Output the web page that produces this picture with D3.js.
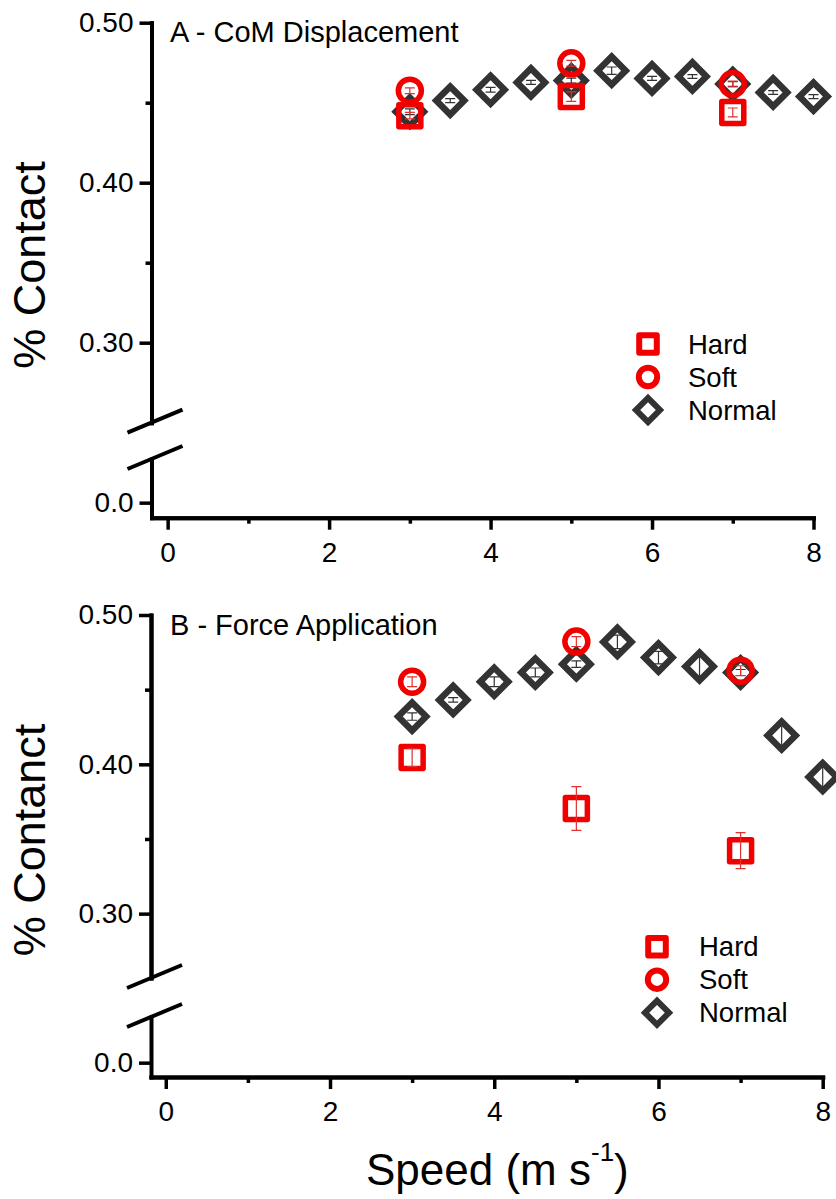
<!DOCTYPE html>
<html>
<head>
<meta charset="utf-8">
<script src="https://cdn.jsdelivr.net/npm/d3@7"></script>
<style>
  body { margin: 0; background: #fff; }
  svg { display: block; }
  text { font-family: "Liberation Sans", Arial, Helvetica, sans-serif; fill: #000; }
</style>
</head>
<body>
<svg id="chart" width="836" height="1199"></svg>
<script>
// ---- data -------------------------------------------------------------
const speedNormal = [3, 3.5, 4, 4.5, 5, 5.5, 6, 6.5, 7, 7.5, 8];
const speedSurface = [3, 5, 7];

// Panel A: CoM displacement
const comNormal    = [0.4444, 0.4513, 0.4581, 0.4627, 0.4638, 0.4700, 0.4652, 0.4664, 0.4617, 0.4564, 0.4538];
const comNormalErr = [0.0018, 0.0012, 0.0015, 0.0012, 0.0015, 0.0023, 0.0012, 0.0012, 0.0015, 0.0012, 0.0012];
const comHard      = [0.4419, 0.4538, 0.4439];
const comHardErr   = [0.0020, 0.0030, 0.0028];
const comSoft      = [0.4575, 0.4746, 0.4617];
const comSoftErr   = [0.0018, 0.0018, 0.0018];

// Panel B: force application
const forceNormal    = [0.4320, 0.4431, 0.4553, 0.4615, 0.4671, 0.4820, 0.4715, 0.4655, 0.4615, 0.4193, 0.3915];
const forceNormalErr = [0.0025, 0.0015, 0.0033, 0.0030, 0.0022, 0.0045, 0.0042, 0.0080, 0.0020, 0.0067, 0.0065];
const forceHard      = [0.4045, 0.3704, 0.3422];
const forceHardErr   = [0.0060, 0.0147, 0.0120];
const forceSoft      = [0.4553, 0.4822, 0.4627];
const forceSoftErr   = [0.0033, 0.0033, 0.0033];

// axis ticks
const xTickValues   = [0, 2, 4, 6, 8];
const xMinorValues  = [1, 3, 5, 7];
const yTickValues   = [0.30, 0.40, 0.50];
const yMinorValues  = [0.35, 0.45];
const yLowTickValues = [0.0];
const seriesNames   = ["Hard", "Soft", "Normal"];

// ---- styling ----------------------------------------------------------
const RED = "#f20000";
const DARK = "#333333";
const FONT_TICK = 28;

const svg = d3.select("#chart");

const symSquare  = d3.symbol().type(d3.symbolSquare);
const symCircle  = d3.symbol().type(d3.symbolCircle);

function markerPath(kind, scale) {
  if (kind === "Hard")   return symSquare.size(Math.pow(22 * scale, 2))();
  if (kind === "Soft")   return symCircle.size(Math.PI * Math.pow(11.5 * scale, 2))();
  return symSquare.size(Math.pow(14 * Math.SQRT2 * scale, 2))();
}
function markerStyle(sel, kind) {
  sel.attr("fill", "none")
     .attr("stroke", kind === "Normal" ? DARK : RED)
     .attr("stroke-width", kind === "Normal" ? 6.5 : 5.5)
     .attr("stroke-linejoin", kind === "Normal" ? "miter" : "round");
}

const panels = [
  {
    title: "A - CoM Displacement", titleY: 42,
    yLabel: "% Contact", yLabelY: 265,
    xDomain: [-0.2, 8], xRange: [151.5, 813.5],
    upperDomain: [0.25, 0.50], upperRange: [422.7, 22.7],
    lowerDomain: [-0.0094, 0.0273], lowerRange: [517.7, 459],
    legend: { x: 648, y: 344, step: 33, textX: 688 },
    normal: comNormal, normalErr: comNormalErr,
    hard: comHard, hardErr: comHardErr,
    soft: comSoft, softErr: comSoftErr
  },
  {
    title: "B - Force Application", titleY: 635,
    yLabel: "% Contanct", yLabelY: 840,
    xDomain: [-0.18, 8], xRange: [151, 822.7],
    upperDomain: [0.2569, 0.50], upperRange: [978, 615],
    lowerDomain: [-0.0096, 0.0306], lowerRange: [1077, 1017],
    legend: { x: 657, y: 946.7, step: 33, textX: 699 },
    normal: forceNormal, normalErr: forceNormalErr,
    hard: forceHard, hardErr: forceHardErr,
    soft: forceSoft, softErr: forceSoftErr
  }
];

function styleAxis(g, tickWidth) {
  g.select(".domain").attr("stroke", "#000").attr("stroke-width", 4).attr("stroke-linecap", "square");
  g.selectAll(".tick line").attr("stroke", "#000").attr("stroke-width", tickWidth);
  g.selectAll(".tick text")
    .attr("font-size", FONT_TICK)
    .attr("font-family", "'Liberation Sans', Arial, sans-serif")
    .attr("fill", "#000");
}

panels.forEach(p => {
  const x = d3.scaleLinear().domain(p.xDomain).range(p.xRange);
  const y = d3.scaleLinear().domain(p.upperDomain).range(p.upperRange);
  const yLow = d3.scaleLinear().domain(p.lowerDomain).range(p.lowerRange);
  const axisX = p.xRange[0];
  const axisY = p.lowerRange[0];

  const g = svg.append("g");

  // upper y segment
  const gyU = g.append("g").attr("transform", `translate(${axisX},0)`)
    .call(d3.axisLeft(y).tickValues(yTickValues).tickFormat(d3.format(".2f"))
      .tickSize(12).tickSizeOuter(0).tickPadding(6));
  styleAxis(gyU, 3.5);
  const gyUm = g.append("g").attr("transform", `translate(${axisX},0)`)
    .call(d3.axisLeft(y).tickValues(yMinorValues).tickFormat("").tickSize(6).tickSizeOuter(0));
  styleAxis(gyUm, 3.5);

  // lower y segment
  const gyL = g.append("g").attr("transform", `translate(${axisX},0)`)
    .call(d3.axisLeft(yLow).tickValues(yLowTickValues).tickFormat(d3.format(".1f"))
      .tickSize(12).tickSizeOuter(0).tickPadding(6));
  styleAxis(gyL, 3.5);

  // x axis
  const gx = g.append("g").attr("transform", `translate(0,${axisY})`)
    .call(d3.axisBottom(x).tickValues(xTickValues).tickFormat(d3.format("d"))
      .tickSize(12).tickSizeOuter(0).tickPadding(12));
  styleAxis(gx, 3.5);
  const gxm = g.append("g").attr("transform", `translate(0,${axisY})`)
    .call(d3.axisBottom(x).tickValues(xMinorValues).tickFormat("").tickSize(6).tickSizeOuter(0));
  styleAxis(gxm, 3.5);

  // axis break marks
  [p.upperRange[0], p.lowerRange[1]].forEach(by => {
    g.append("line")
      .attr("x1", axisX - 24).attr("y1", by + 10)
      .attr("x2", axisX + 31).attr("y2", by - 13)
      .attr("stroke", "#000").attr("stroke-width", 4);
  });

  // panel title
  g.append("text").attr("x", 170).attr("y", p.titleY)
    .attr("font-size", 29).text(p.title);

  // y label
  g.append("text")
    .attr("transform", `translate(45,${p.yLabelY}) rotate(-90)`)
    .attr("text-anchor", "middle").attr("font-size", 45)
    .text(p.yLabel);

  // data series: Normal, then Hard, then Soft on top
  const series = [
    { kind: "Normal", xs: speedNormal, ys: p.normal, es: p.normalErr },
    { kind: "Hard", xs: speedSurface, ys: p.hard, es: p.hardErr },
    { kind: "Soft", xs: speedSurface, ys: p.soft, es: p.softErr }
  ];

  series.forEach(s => {
    const pts = s.xs.map((v, i) => ({ x: v, y: s.ys[i], e: s.es[i] }));
    const gs = g.append("g");
    gs.selectAll("path.m").data(pts).join("path")
      .attr("class", "m")
      .attr("d", markerPath(s.kind, 1))
      .attr("transform", d => `translate(${x(d.x)},${y(d.y)})` + (s.kind === "Normal" ? " rotate(45)" : ""))
      .call(markerStyle, s.kind);
    const col = s.kind === "Normal" ? DARK : "#e03030";
    gs.selectAll("path.e").data(pts).join("path")
      .attr("class", "e")
      .attr("d", d => {
        const cx = x(d.x), y1 = y(d.y - d.e), y2 = y(d.y + d.e);
        return `M${cx},${y1}V${y2}M${cx - 5},${y1}H${cx + 5}M${cx - 5},${y2}H${cx + 5}`;
      })
      .attr("fill", "none").attr("stroke", col).attr("stroke-width", 1.2);
  });

  // legend
  const lg = g.append("g");
  seriesNames.forEach((name, i) => {
    const ly = p.legend.y + i * p.legend.step;
    lg.append("path")
      .attr("d", markerPath(name, name === "Normal" ? 0.86 : 0.8))
      .attr("transform", `translate(${p.legend.x},${ly})` + (name === "Normal" ? " rotate(45)" : ""))
      .call(markerStyle, name)
      .attr("stroke-width", 6);
    lg.append("text").attr("x", p.legend.textX).attr("y", ly)
      .attr("dy", "0.35em").attr("font-size", 27.5).text(name);
  });
});

// shared x label
const xl = svg.append("text").attr("x", 366).attr("y", 1185).attr("font-size", 44);
xl.append("tspan").text("Speed (m s");
xl.append("tspan").attr("font-size", 26).attr("dy", -24).text("-1");
xl.append("tspan").attr("dy", 24).text(")");
</script>
</body>
</html>
